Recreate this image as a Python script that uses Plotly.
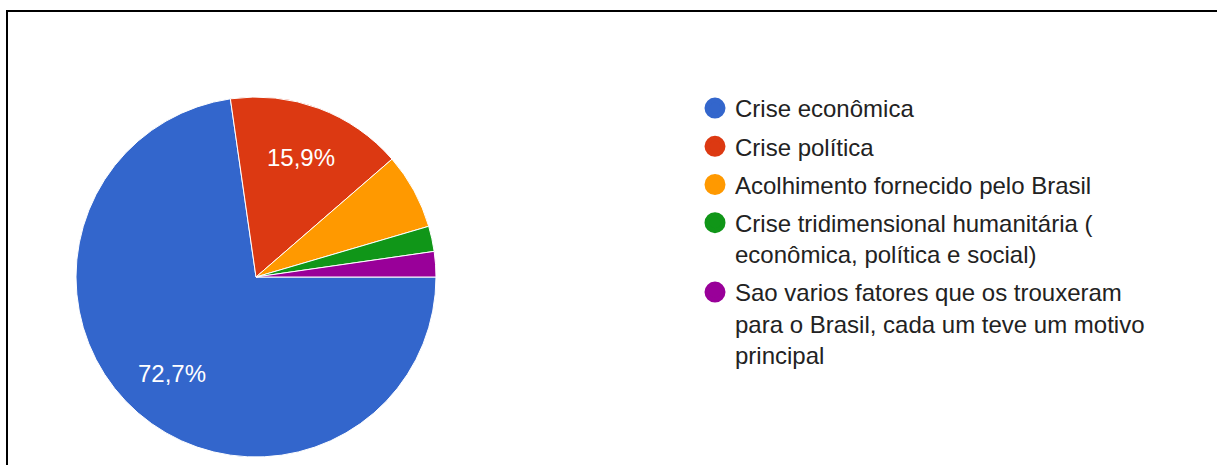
import math
import plotly.graph_objects as go

# Survey answers: reasons for coming to Brazil (44 responses)
labels = [
    "Crise econômica",
    "Crise política",
    "Acolhimento fornecido pelo Brasil",
    "Crise tridimensional humanitária (<br>econômica, política e social)",
    "Sao varios fatores que os trouxeram<br>para o Brasil, cada um teve um motivo<br>principal",
]
counts = [32, 7, 3, 1, 1]
colors = ["#3366cc", "#dc3912", "#ff9900", "#109618", "#990099"]

W, H = 1217, 465
FONT = "Liberation Sans, Arial, sans-serif"

# pie geometry in pixels
CX, CY, R = 256, 277, 180
START = 90  # first slice starts at 3 o'clock, going clockwise

total = sum(counts)
shares = [c / total * 100 for c in counts]

fig = go.Figure()

fig.add_trace(go.Pie(
    labels=labels,
    values=counts,
    textinfo="none",
    marker=dict(colors=colors, line=dict(color="white", width=1)),
    sort=False,
    direction="clockwise",
    rotation=START,
    showlegend=False,
    hoverinfo="label+percent",
    domain=dict(x=[(CX - R) / W, (CX + R) / W],
                y=[(H - CY - R) / H, (H - CY + R) / H]),
))

# percentage labels on the slices that have room for them
annotations = []
cum = 0
for c, s in zip(counts, shares):
    mid = START + 360 * (cum + c / 2) / total
    cum += c
    if s < 10:
        continue
    a = math.radians(mid)
    px = CX + 0.71 * R * math.sin(a)
    py = CY - 0.71 * R * math.cos(a)
    annotations.append(dict(
        x=px / W, y=1 - py / H, xref="paper", yref="paper",
        text=f"{s:.1f}".replace(".", ",") + "%", showarrow=False,
        font=dict(color="white", size=24, family=FONT),
        xanchor="center", yanchor="middle",
    ))

# circular legend swatches, one per answer
for i, (name, col) in enumerate(zip(labels, colors)):
    fig.add_trace(go.Scatter(
        x=[None], y=[None], mode="markers", name=name,
        legendgroup=f"g{i}",
        marker=dict(symbol="circle", size=16, color=col,
                    line=dict(color=col, width=5)),
        hoverinfo="skip",
    ))

fig.update_layout(
    width=W, height=H,
    margin=dict(l=0, r=0, t=0, b=0),
    paper_bgcolor="white",
    plot_bgcolor="white",
    xaxis=dict(visible=False),
    yaxis=dict(visible=False),
    annotations=annotations,
    legend=dict(
        x=695 / W, y=1 - 86 / H, xanchor="left", yanchor="top",
        font=dict(family=FONT, size=24, color="#222222"),
        valign="top", bgcolor="rgba(0,0,0,0)", borderwidth=0,
        tracegroupgap=4,
    ),
    shapes=[
        dict(type="line", xref="paper", yref="paper",
             x0=7 / W, x1=1, y0=1 - 11 / H, y1=1 - 11 / H,
             line=dict(color="black", width=2)),
        dict(type="line", xref="paper", yref="paper",
             x0=7 / W, x1=7 / W, y0=0, y1=1 - 10 / H,
             line=dict(color="black", width=2)),
    ],
)

fig.write_html("out.html")
